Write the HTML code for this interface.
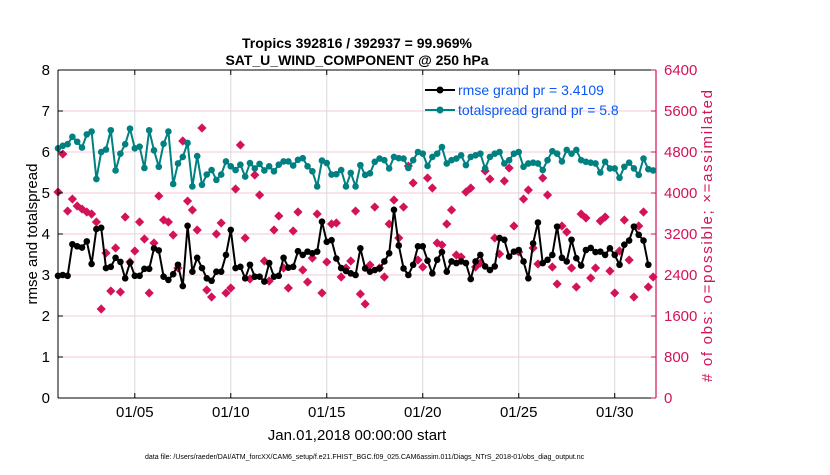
<!DOCTYPE html>
<html><head><meta charset="utf-8"><style>
body{margin:0;background:#fff;width:830px;height:470px;overflow:hidden;font-family:"Liberation Sans",Arial,sans-serif}
</style></head><body>
<svg id="chart" width="830" height="470" xmlns="http://www.w3.org/2000/svg" font-family="Liberation Sans, Arial, sans-serif">
<g id="grid"></g>
<g id="marks"></g>
<g id="axes"></g>
<text x="357" y="48" text-anchor="middle" font-size="14" font-weight="bold">Tropics 392816 / 392937 = 99.969%</text>
<text x="357" y="65" text-anchor="middle" font-size="14" font-weight="bold">SAT_U_WIND_COMPONENT @ 250 hPa</text>
<text x="357" y="440" text-anchor="middle" font-size="15">Jan.01,2018 00:00:00 start</text>
<text transform="translate(37,234) rotate(-90)" text-anchor="middle" font-size="15">rmse and totalspread</text>
<text transform="translate(712,236) rotate(-90)" text-anchor="middle" font-size="15" fill="#d4125a" textLength="292" lengthAdjust="spacing">#  of obs: o=possible; ×=assimilated</text>
<text x="145" y="459" font-size="7">data file: /Users/raeder/DAI/ATM_forcXX/CAM6_setup/f.e21.FHIST_BGC.f09_025.CAM6assim.011/Diags_NTrS_2018-01/obs_diag_output.nc</text>
<g>
<line x1="425" y1="90" x2="455" y2="90" stroke="#000" stroke-width="2"/>
<circle cx="440" cy="90" r="3.5" fill="#000"/>
<text x="458" y="95" font-size="14" fill="#0b57f5">rmse grand pr = 3.4109</text>
<line x1="425" y1="110" x2="455" y2="110" stroke="#008080" stroke-width="2"/>
<circle cx="440" cy="110" r="3.5" fill="#008080"/>
<text x="458" y="115" font-size="14" fill="#0b57f5">totalspread grand pr = 5.8</text>
</g>
</svg>
<script>
const rmse=[2.98,3.0,2.98,3.75,3.7,3.67,3.82,3.27,4.12,4.15,3.17,3.2,3.42,3.32,2.92,3.3,2.98,2.98,3.15,3.15,3.65,3.6,2.96,2.88,3.02,3.25,2.73,4.2,3.08,3.42,3.17,2.92,
2.86,3.08,3.08,3.49,4.1,3.17,3.2,2.92,3.25,2.96,2.96,2.84,3.29,2.96,2.98,3.42,3.18,3.2,3.58,3.49,3.57,3.53,3.57,4.3,3.81,3.85,3.4,3.17,3.1,3.04,3.0,
3.65,3.16,3.08,3.12,3.16,3.33,3.53,4.59,3.72,3.16,3.0,3.25,3.7,3.7,3.35,3.04,3.37,3.56,3.08,3.33,3.29,3.33,3.29,2.9,3.33,3.49,3.21,3.12,3.21,3.9,3.86,
3.45,3.57,3.61,3.33,2.92,3.77,4.28,3.29,3.37,3.49,4.18,3.42,3.33,3.86,3.41,3.23,3.61,3.66,3.56,3.57,3.49,3.65,3.49,3.25,3.74,3.84,4.18,3.98,3.84,3.25];
const spread=[6.09,6.15,6.19,6.37,6.25,6.11,6.43,6.5,5.34,6.0,6.06,6.53,5.55,5.96,6.19,6.57,6.09,6.13,5.61,6.53,6.04,5.64,6.2,6.5,5.22,5.72,5.88,6.22,5.16,5.9,5.2,5.45,
5.56,5.32,5.45,5.77,5.65,5.56,5.69,5.4,5.73,5.6,5.71,5.55,5.65,5.53,5.69,5.77,5.77,5.67,5.81,5.85,5.65,5.53,5.16,5.79,5.73,5.45,5.46,5.56,5.16,5.49,5.16,
5.68,5.44,5.48,5.76,5.84,5.8,5.6,5.88,5.85,5.84,5.61,5.8,6.0,5.96,5.66,5.88,5.96,6.12,5.72,5.8,5.84,5.92,5.68,5.88,5.92,5.96,5.6,5.88,5.96,6.0,5.72,
5.8,5.96,6.0,5.64,5.72,5.74,5.72,5.56,5.8,6.02,5.96,5.77,6.05,5.96,6.05,5.8,5.76,5.74,5.72,5.5,5.76,5.6,5.6,5.37,5.64,5.74,5.6,5.44,5.84,5.58,5.55];
const obsCount=[4019,4760,3648,3882,3746,3687,3629,3590,3434,1736,2829,2088,2927,2068,3531,2653,2868,3434,3102,2049,3024,3941,3473,3434,3180,2536,5014,3843,3668,3278,5268,2107,1971,
3200,3414,2049,2146,4078,4936,3122,2322,4351,3961,2673,2283,3278,3551,2536,2146,3258,3629,2497,2263,2731,3590,2049,2653,3395,3414,2361,2536,2673,3648,2029,
1834,2595,3726,2536,2361,3395,3863,3122,3726,4526,4195,2692,2556,4292,4097,3024,2985,3395,3668,2790,2751,4019,4097,2556,2634,4429,4273,3122,2809,4234,
4487,3356,2848,3882,4058,2927,2614,4292,3961,2556,2224,3356,3239,2536,2166,3590,3512,2341,2536,3453,3531,2478,2049,2868,3473,2692,1971,3356,3629,2166,2361];
const leftTicks=[0,1,2,3,4,5,6,7,8];
const rightTicks=[0,800,1600,2400,3200,4000,4800,5600,6400];
const xTickDays=[5,10,15,20,25,30];
const xTickLabels=["01/05","01/10","01/15","01/20","01/25","01/30"];
const stepDays=0.25, startDay=1;

const L=58,R=656,T=70,B=398;
const dayMin=1, dayMax=32.15;
const X=d=>L+(d-dayMin)/(dayMax-dayMin)*(R-L);
const Y=v=>B-v/8*(B-T);
const Y2=c=>B-c/6400*(B-T);
const NS="http://www.w3.org/2000/svg";
function mk(tag,attrs,parent){const e=document.createElementNS(NS,tag);for(const k in attrs)e.setAttribute(k,attrs[k]);parent.appendChild(e);return e;}
const grid=document.getElementById('grid'),marks=document.getElementById('marks'),axes=document.getElementById('axes');
rightTicks.forEach(c=>{const l=mk('line',{x1:L,x2:R,y1:Y2(c),y2:Y2(c),stroke:'#f3c9d8','stroke-width':1},grid);

});
xTickDays.forEach(d=>{const l=mk('line',{x1:X(d),x2:X(d),y1:T,y2:B,stroke:'#d9d9d9','stroke-width':1},grid);

});
obsCount.forEach((c,i)=>{const x=X(startDay+i*stepDays),y=Y2(c);
const p=mk('path',{d:`M${x} ${y-4.6}L${x+4.6} ${y}L${x} ${y+4.6}L${x-4.6} ${y}Z`,fill:'#d4125a'},marks);

});
function series(vals,color,name){
const pts=vals.map((v,i)=>X(startDay+i*stepDays).toFixed(1)+','+Y(v).toFixed(1)).join(' ');
const pl=mk('polyline',{points:pts,fill:'none',stroke:color,'stroke-width':2},marks);


vals.forEach((v,i)=>{const c=mk('circle',{cx:X(startDay+i*stepDays),cy:Y(v),r:3.3,fill:color},marks);

});}
series(spread,'#008080','totalspread');
series(rmse,'#000000','rmse');
mk('line',{x1:L,x2:R,y1:T,y2:T,stroke:'#000','stroke-width':1},axes);
mk('line',{x1:L,x2:R,y1:B,y2:B,stroke:'#000','stroke-width':1},axes);
mk('line',{x1:L,x2:L,y1:T,y2:B,stroke:'#000','stroke-width':1},axes);
mk('line',{x1:R,x2:R,y1:T,y2:B,stroke:'#d4125a','stroke-width':1.2},axes);
leftTicks.forEach(v=>{mk('line',{x1:L,x2:L+5,y1:Y(v),y2:Y(v),stroke:'#000'},axes);
const t=mk('text',{x:L-8,y:Y(v)+5,'text-anchor':'end','font-size':15},axes);t.textContent=v;

});
rightTicks.forEach(c=>{mk('line',{x1:R-5,x2:R,y1:Y2(c),y2:Y2(c),stroke:'#d4125a'},axes);
const t=mk('text',{x:R+8,y:Y2(c)+5,'font-size':15,fill:'#d4125a'},axes);t.textContent=c;

});
xTickDays.forEach((d,i)=>{mk('line',{x1:X(d),x2:X(d),y1:B,y2:B-5,stroke:'#000'},axes);
mk('line',{x1:X(d),x2:X(d),y1:T,y2:T+5,stroke:'#000'},axes);
const t=mk('text',{x:X(d),y:B+19,'text-anchor':'middle','font-size':15},axes);t.textContent=xTickLabels[i];

});
</script>
</body></html>
